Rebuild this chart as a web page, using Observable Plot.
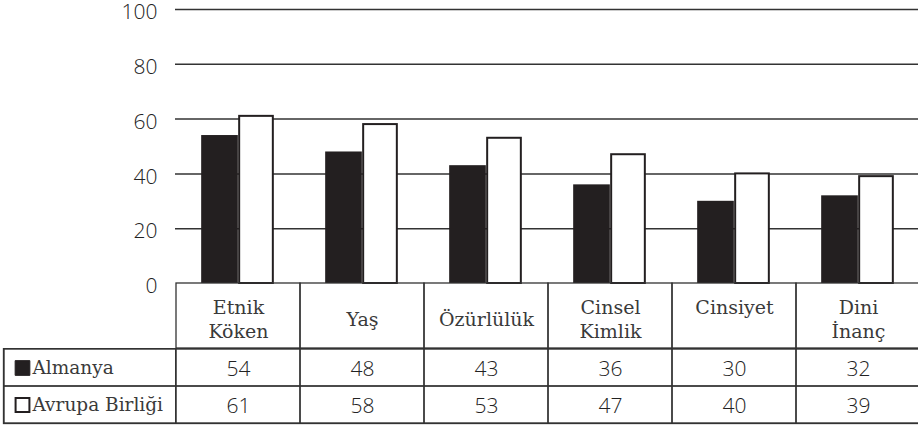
<!DOCTYPE html>
<html>
<head>
<meta charset="utf-8">
<script src="https://cdn.jsdelivr.net/npm/d3@7"></script>
<script src="https://cdn.jsdelivr.net/npm/@observablehq/plot@0.6"></script>
<style>
  html, body { margin: 0; padding: 0; background: #fff; overflow: hidden; }
  #chart svg { display: block; }
</style>
</head>
<body>
<div id="chart"></div>
<script>
// ---- data ----
const categories = ["Etnik Köken", "Yaş", "Özürlülük", "Cinsel Kimlik", "Cinsiyet", "Dini İnanç"];
const categoryLabels = ["Etnik\nKöken", "Yaş", "Özürlülük", "Cinsel\nKimlik", "Cinsiyet\n", "Dini\nİnanç"];
const seriesNames = ["Almanya", "Avrupa Birliği"];
const almanya = [54, 48, 43, 36, 30, 32];
const avrupaBirligi = [61, 58, 53, 47, 40, 39];
const yTicks = [0, 20, 40, 60, 80, 100];

// ---- derived tables ----
const rowsA = categories.map((c, i) => ({category: c, series: seriesNames[0], value: almanya[i]}));
const rowsB = categories.map((c, i) => ({category: c, series: seriesNames[1], value: avrupaBirligi[i]}));
const tableRows = rowsA.concat(rowsB);
const header = categories.map((c, i) => ({category: c, label: categoryLabels[i]}));

// ---- layout ----
const W = 918;
const left = 175, right = 921;
const bw = (right - left) / categories.length;
const headerH = 65;
const ink = "#231f20";
const line = "#333";
const sans = "Open Sans";
const serif = "DejaVu Serif";

const chart = Plot.plot({
  width: W, height: 348,
  marginTop: 9, marginBottom: headerH, marginLeft: left, marginRight: W - right,
  style: {background: "#fff", overflow: "visible"},
  x: {type: "band", domain: categories, padding: 0, axis: null},
  y: {domain: [0, 100], axis: null},
  marks: [
    Plot.ruleY(yTicks.filter(t => t > 0), {stroke: line, strokeWidth: 1.5}),
    Plot.axisY(yTicks, {anchor: "left", tickSize: 0, tickPadding: 18, dy: 3, fontSize: 21, fontFamily: sans, fontWeight: 300, fill: "#222", label: null}),
    Plot.barY(rowsA, {x: "category", y: "value", fill: ink, insetLeft: bw / 2 - 37, insetRight: bw / 2}),
    Plot.barY(rowsB, {x: "category", y: "value", fill: "#fff", stroke: ink, strokeWidth: 2, insetLeft: bw / 2 + 1, insetRight: bw / 2 - 35}),
    // header row of the table (category names)
    Plot.barY(header, {x: "category", y1: 0, y2: 0, insetBottom: -headerH, fill: "none", stroke: line, strokeWidth: 1.3}),
    Plot.text(header, {x: "category", text: "label", frameAnchor: "bottom", dy: headerH / 2 + 2, lineAnchor: "middle", lineHeight: 1.3, fontSize: 19, fontFamily: serif, fill: "#3a3a3a"})
  ]
});

const table = Plot.plot({
  width: W, height: 77,
  marginTop: 0, marginBottom: 2, marginLeft: 3, marginRight: W - right,
  style: {background: "#fff", overflow: "hidden"},
  x: {type: "band", domain: categories, range: [left, right], padding: 0, axis: null},
  y: {type: "band", domain: seriesNames, padding: 0, axis: null},
  marks: [
    Plot.frame({stroke: line, strokeWidth: 1.3}),
    Plot.cell(seriesNames, {x: () => categories[0], y: d => d, insetLeft: -(left - 3), insetRight: bw, fill: "none", stroke: line, strokeWidth: 1.3}),
    Plot.cell(tableRows, {x: "category", y: "series", fill: "none", stroke: line, strokeWidth: 1.3}),
    Plot.text(tableRows, {x: "category", y: "series", text: d => String(d.value), fontSize: 21, fontFamily: sans, fontWeight: 300, fill: "#222", dy: 1}),
    Plot.dot([seriesNames[0]], {y: d => d, frameAnchor: "left", dx: 19, symbol: "square", r: 8.3, fill: ink, stroke: ink, strokeWidth: 1}),
    Plot.dot([seriesNames[1]], {y: d => d, frameAnchor: "left", dx: 19, symbol: "square", r: 7.8, fill: "#fff", stroke: ink, strokeWidth: 2}),
    Plot.text(seriesNames, {y: d => d, text: d => d, frameAnchor: "left", dx: 29, textAnchor: "start", fontSize: 18.5, fontFamily: serif, fill: "#3a3a3a"})
  ]
});

document.getElementById("chart").append(chart, table);
</script>
</body>
</html>
